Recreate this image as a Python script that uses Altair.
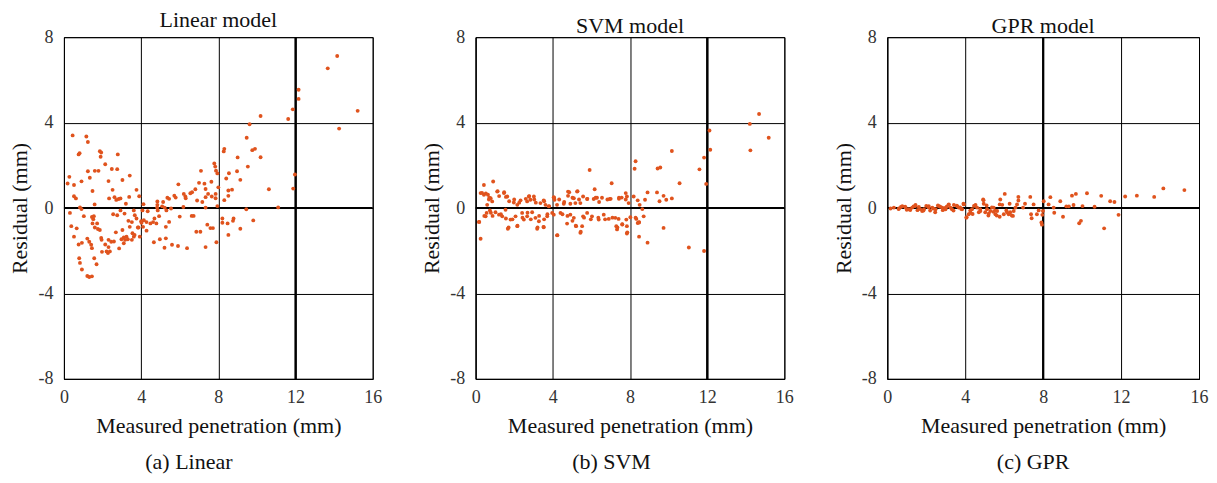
import altair as alt
import pandas as pd

# ---------------- data ----------------
lin_x = [14.16, 13.67, 12.16, 12.16, 11.86, 11.62, 15.22, 14.26, 10.19, 9.62, 9.47, 9.53, 9.9, 9.76, 10.19,
         11.97, 11.88, 10.62, 11.1, 9.45, 9.81, 9.0, 8.97, 9.14, 8.71, 8.52, 8.52, 8.31, 8.28, 8.55, 8.41, 8.31,
         7.79, 7.84, 7.88, 7.95, 8.0, 7.95, 8.21, 8.21, 8.48, 8.79, 8.76, 8.52, 9.14, 7.9, 7.34, 7.43, 7.59, 7.72,
         7.1, 7.0, 7.28, 7.34, 7.64, 7.34, 7.47, 7.66, 7.86, 7.86, 7.17, 6.9, 7.34, 6.81, 6.55, 6.64, 6.21, 6.29,
         6.31, 5.93, 5.72, 5.79, 6.19, 6.0, 6.62, 6.72, 6.86, 7.07, 6.38, 5.91, 5.6, 5.21, 4.97, 4.66, 5.28, 5.45,
         5.28, 5.36, 5.45, 5.14, 5.09, 5.22, 5.31, 5.55, 4.84, 4.84, 4.83, 4.86, 4.93, 4.69, 4.79, 4.62, 4.48,
         4.28, 4.14, 4.02, 4.1, 4.28, 4.34, 4.07, 4.12, 4.0, 3.86, 3.76, 3.67, 3.62, 3.9, 3.76, 3.41, 3.38, 3.03,
         2.79, 2.76, 2.48, 2.52, 2.62, 2.71, 2.84, 2.93, 2.31, 2.34, 2.14, 1.86, 1.93, 1.9, 1.79, 1.6, 1.34, 1.24,
         1.48, 1.59, 1.16, 1.24, 0.45, 0.76, 0.81, 0.91, 0.28, 0.19, 0.52, 0.52, 0.62, 0.83, 0.91, 0.31, 0.38,
         0.52, 0.66, 0.76, 0.93, 1.03, 0.79, 0.83, 0.93, 1.21, 1.31, 1.45, 1.21, 1.31, 1.41, 1.52, 1.48, 1.6, 1.72,
         1.76, 1.86, 1.45, 1.55, 1.69, 1.57, 1.45, 1.93, 1.95, 1.97, 2.14, 2.21, 2.28, 2.38, 2.31, 2.45, 2.59,
         2.31, 2.69, 2.86, 2.55, 2.76, 2.93, 3.03, 3.1, 3.17, 3.24, 3.31, 3.1, 2.98, 3.14, 3.21, 3.41, 3.55, 3.52,
         3.62, 3.52, 3.34, 3.66, 3.83, 3.93]
lin_y = [7.12, 6.54, 5.54, 5.11, 4.62, 4.17, 4.55, 3.72, 4.31, 3.92, 3.29, 1.94, 2.77, 2.71, 2.38,
         1.57, 0.91, 0.88, 0.03, -0.06, -0.58, 2.37, 1.72, 1.32, 0.86, 0.82, 0.57, 2.77, 2.65, 1.63, 1.38, 0.37,
         2.09, 1.94, 1.75, 1.62, 0.97, 0.09, -0.49, -0.69, -0.72, -0.49, -0.6, -1.26, -0.97, -1.6, -1.83, -0.78,
         -0.94, -0.94, 1.74, 1.18, 1.14, 0.89, 1.23, 0.51, 0.66, 0.54, 0.46, 0.66, 0.28, 0.35, 0.02, 0.88, 0.69,
         0.74, 0.66, 0.54, 0.46, 1.11, 0.58, 0.49, 0.05, -0.4, -0.37, -0.37, -1.11, -1.11, -1.88, -1.78, -1.72,
         -1.86, -1.46, -1.6, -1.42, -0.65, -0.88, 0.48, 0.43, 0.28, 0.08, 0.02, -0.11, -0.02, 0.31, 0.15, 0.02,
         -0.11, -0.38, -0.49, -0.72, -0.66, -0.72, -0.66, -0.57, -0.69, -0.88, -1.06, -0.15, -0.11, 0.18, -0.62,
         -0.91, -0.49, -0.34, -0.11, 0.55, 0.85, 1.52, 0.52, 1.31, 2.51, 1.82, 1.83, 0.85, 0.51, 0.38, 0.42, 0.45,
         1.26, 0.45, 2.05, 2.66, 2.6, 2.4, 1.74, 1.74, 1.42, 1.72, 0.8, 0.17, 3.35, 3.09, 3.4, 2.51, 2.57, 1.25,
         1.46, 1.15, 1.08, 0.55, 0.45, 0.03, -0.05, -0.23, -0.85, -1.34, -0.95, -1.71, -1.63, -0.38, -2.35, -2.57,
         -2.88, -3.18, -3.23, -3.2, -1.43, -1.58, -1.72, -0.52, -0.72, -0.91, -0.72, -0.98, -1.03, -0.42, -0.38,
         -2.63, -2.35, -1.88, -1.4, -1.49, -2.05, -1.71, -2.03, -2.11, -2.03, -1.49, -1.58, -1.57, -1.83, -1.14,
         -1.89, -0.29, -0.34, -0.11, -1.03, -1.38, -1.49, -1.34, -1.46, -1.65, -1.46, -0.26, 0.2, -0.88, -1.18,
         -1.49, -1.34, -0.66, -0.6, -1.26, -0.91, -1.34]

svm_x = [14.69, 14.21, 15.19, 14.24, 12.12, 12.16, 11.84, 11.6, 11.95, 10.17, 10.57, 8.29, 8.24, 9.57, 9.43,
         5.91, 7.05, 6.17, 9.74, 9.88, 10.17, 9.4, 8.91, 8.78, 9.53, 8.64, 8.19, 8.4, 8.5, 7.93, 7.78, 7.84,
         7.57, 7.43, 6.95, 6.55, 6.29, 6.12, 5.78, 5.57, 5.26, 4.79, 4.79, 5.09, 5.17, 5.43, 4.91, 4.57, 4.05,
         4.09, 4.22, 3.79, 3.62, 3.53, 3.36, 3.02, 2.76, 2.84, 2.67, 2.33, 2.16, 1.98, 1.64, 1.47, 1.12, 0.91,
         0.43, 0.26, 0.43, 0.64, 0.78, 0.86, 0.6, 0.17, 0.26, 0.52, 0.57, 0.74, 1.03, 1.21, 1.38, 1.55, 1.67,
         1.81, 2.07, 2.16, 2.41, 2.5, 2.67, 2.93, 3.1, 3.19, 3.28, 3.53, 3.71, 3.97, 4.05, 4.22, 4.4, 4.74, 4.91,
         5.09, 5.21, 5.43, 5.52, 5.57, 5.78, 6.03, 6.38, 6.64, 6.9, 7.24, 7.29, 7.33, 7.41, 7.6, 7.81, 7.84,
         7.84, 8.02, 8.33, 8.4, 8.47, 8.47, 8.71, 8.91, 9.74, 11.05, 11.84,
         0.33, 0.53, 0.71, 0.69, 1.14, 1.48, 1.22, 1.57, 1.74, 2.0, 2.26, 2.6, 2.78, 3.04, 3.12, 3.55, 3.81,
         4.07, 4.33, 4.59, 4.85, 5.02, 5.28, 5.36, 5.79, 6.22, 6.4, 6.83, 7.0, 7.43, 7.78,
         0.19, 0.45, 0.79, 0.88, 1.31, 1.57, 1.71, 1.91, 2.17, 2.43, 2.69, 2.86, 3.21, 3.29, 3.55, 3.52, 3.72,
         4.24, 4.5, 4.76, 5.02, 5.19, 5.45, 5.62, 5.97, 6.36, 6.71, 7.09, 7.35, 7.6, 7.86, 8.29, 8.47]
svm_y = [4.4, 3.94, 3.29, 2.7, 3.63, 2.73, 2.36, 1.81, 1.13, 2.67, 1.16, 2.19, 1.84, 1.9, 1.85,
         1.78, 1.16, 0.88, 0.57, 0.39, 0.45, 0.73, 0.73, 0.39, 0.32, -0.05, 0.54, 0.36, 0.15, 0.23, 0.7, 0.54,
         0.49, 0.43, 0.42, 0.48, 0.48, 0.42, 0.42, 0.54, 0.77, 0.77, 0.57, 0.46, 0.23, 0.23, 0.2, 0.2, 0.51,
         0.39, 0.15, 0.08, 0.15, 0.36, 0.23, 0.54, 0.54, 0.39, 0.31, 0.36, 0.15, 0.26, 0.54, 0.7, 0.77, 1.24,
         1.08, 0.7, 0.62, 0.62, 0.46, 0.31, 0.15, -0.65, -1.44, -0.39, -0.23, -0.11, -0.2, -0.31, -0.39, -0.08,
         -0.97, -0.54, -0.39, -0.85, -0.23, -0.54, -0.39, -0.2, -0.46, -0.97, -0.62, -0.9, -0.39, -0.23, -0.31,
         -1.28, -0.23, -0.73, -0.31, -0.46, -0.85, -1.16, -0.85, -0.39, -0.23, -0.39, -0.54, -0.31, -0.51, -0.46,
         -0.85, -1.0, -0.51, -0.77, -0.54, -0.85, -1.19, -0.43, -0.51, -0.7, -0.66, -1.34, -0.39, -1.62, -0.93,
         -1.85, -2.01,
         0.71, 0.68, 0.48, 0.4, 0.79, 0.74, 0.56, 0.52, 0.32, 0.4, 0.25, 0.43, 0.56, 0.4, 0.25, 0.32, 0.09,
         0.48, 0.4, 0.28, 0.74, 0.48, 0.79, 0.4, 0.43, 0.48, 0.28, 0.4, 0.43, 0.48, 0.4,
         -0.65, -0.37, -0.22, -0.37, -0.29, -0.49, -0.91, -0.53, -0.83, -0.45, -0.22, -0.53, -0.91, -0.37, -0.53,
         -0.88, -0.29, -1.27, -0.29, -0.37, -0.6, -0.83, -1.11, -0.45, -0.53, -0.45, -0.53, -0.45, -0.91, -0.76,
         -1.14, -0.45, -0.68]

gpr_x = [14.17, 15.25, 13.7, 12.81, 12.21, 11.44, 11.66, 10.98, 10.25, 9.68, 9.48, 9.56, 10.02, 10.64, 9.19,
         9.32, 8.88, 8.37, 8.28, 8.54, 8.57, 9.02, 9.94, 9.85, 11.13, 11.87, 8.03, 7.99, 7.96, 7.94, 7.91, 7.77,
         7.68, 7.34, 7.38, 7.51, 7.41, 7.07, 6.97, 6.73, 6.73, 6.66, 6.58, 6.49, 6.45, 6.28, 6.23, 6.03, 6.11,
         5.98, 5.8, 5.77, 5.77, 5.64, 5.55, 5.46, 5.29, 5.21, 5.12, 4.95, 4.92, 4.78, 4.61, 4.53, 4.35, 4.27,
         4.18, 4.06, 3.93, 3.84, 3.67, 3.42, 3.24, 3.16, 2.99, 2.82, 2.65, 2.48, 2.31, 2.13, 1.88, 1.79, 1.62,
         1.45, 1.28, 1.11, 0.94, 0.77, 0.6, 0.34, 0.17,
         0.58, 0.92, 1.18, 1.44, 1.69, 1.86, 2.12, 2.37, 2.46, 2.72, 2.97, 3.14, 3.32, 3.57, 3.74, 3.91, 4.07,
         4.26, 4.38, 4.51, 4.77, 4.94, 5.03, 5.19, 5.37, 5.54, 5.62, 6.31, 6.39,
         0.7, 1.0, 1.35, 1.55, 2.0, 2.2, 2.6, 2.85, 3.05, 3.4, 3.6, 3.8, 4.45, 4.7, 5.1, 5.45, 5.9, 6.15]
gpr_y = [0.92, 0.84, 0.52, 0.58, 0.54, 0.32, 0.28, 0.57, 0.69, 0.66, 0.58, 0.14, 0.09, 0.06, 0.08,
         0.08, 0.32, 0.51, 0.17, 0.02, -0.22, -0.41, -0.6, -0.71, -0.95, -0.32, 0.32, -0.14, -0.32, -0.78, -0.68,
         -0.11, -0.29, 0.52, -0.29, 0.17, -0.48, 0.2, 0.02, 0.52, 0.35, 0.17, 0.02, -0.14, -0.37, 0.2, -0.29,
         0.66, -0.11, -0.29, 0.4, 0.17, -0.41, -0.14, -0.29, 0.02, -0.14, -0.26, -0.06, 0.2, 0.4, -0.14, 0.02,
         0.14, -0.06, -0.22, -0.29, -0.45, 0.17, -0.06, 0.02, 0.14, 0.02, 0.17, -0.06, 0.02, 0.09, -0.06, 0.02,
         0.09, -0.06, -0.14, 0.05, 0.14, 0.02, -0.06, 0.02, 0.09, -0.02, 0.02, -0.02,
         -0.05, 0.06, -0.09, 0.09, -0.05, -0.12, 0.03, -0.03, -0.2, 0.06, 0.0, 0.15, -0.06, 0.11, 0.03, 0.2,
         -0.43, -0.12, -0.28, 0.11, -0.05, 0.37, -0.2, -0.35, 0.03, -0.12, -0.35, -0.2, -0.35,
         0.05, -0.08, 0.08, -0.1, 0.1, -0.12, 0.12, -0.1, 0.06, -0.12, 0.08, -0.04, 0.1, -0.2, 0.12, -0.18,
         0.15, -0.2]

x_ticks = [0, 4, 8, 12, 16]
y_ticks = [-8, -4, 0, 4, 8]
panel_titles = ["Linear model", "SVM model", "GPR model"]
captions = ["(a) Linear", "(b) SVM", "(c) GPR"]
heavy_x = [12, 12, 8]   # vertical grid lines that print heavier in the reference
zero_line = [0]

FONT = "Liberation Serif, 'Times New Roman', Times, serif"
DOT = "#E0531D"
PLOT_H = 342


def panel(xs, ys, title, caption, hx, width, cap_x, title_offset):
    df = pd.DataFrame({"x": xs, "y": ys})
    xenc = alt.X("x:Q", scale=alt.Scale(domain=[0, 16], nice=False),
                 axis=alt.Axis(values=x_ticks, title="Measured penetration (mm)", labelPadding=10,
                               titlePadding=9, labelFlush=False))
    yenc = alt.Y("y:Q", scale=alt.Scale(domain=[-8, 8], nice=False),
                 axis=alt.Axis(values=y_ticks, title="Residual (mm)", labelPadding=11,
                               titlePadding=6, labelExpr="'' + datum.value"))
    pts = alt.Chart(df).mark_circle(size=15, color=DOT, opacity=1).encode(x=xenc, y=yenc)
    zr = alt.Chart(pd.DataFrame({"y": zero_line})).mark_rule(color="black", strokeWidth=2).encode(y="y:Q")
    vr = alt.Chart(pd.DataFrame({"x": [hx]})).mark_rule(color="black", strokeWidth=2.2).encode(x="x:Q")
    cap = alt.Chart(pd.DataFrame({"t": [caption]})).mark_text(
        font=FONT, fontSize=22, color="#111", align="center", baseline="middle"
    ).encode(text="t:N", x=alt.value(cap_x), y=alt.value(PLOT_H + 83))
    return alt.layer(zr, vr, pts, cap).properties(
        width=width, height=PLOT_H,
        title=alt.TitleParams(title, font=FONT, fontSize=22, fontWeight="normal", color="#111",
                              offset=title_offset),
    )


a = panel(lin_x, lin_y, panel_titles[0], captions[0], heavy_x[0], 309, 125, -4)
b = panel(svm_x, svm_y, panel_titles[1], captions[1], heavy_x[1], 309, 136, -10)
c = panel(gpr_x, gpr_y, panel_titles[2], captions[2], heavy_x[2], 312, 146, -10)

chart = alt.hconcat(a, b, c, spacing=103, bounds="flush").properties(padding=0).configure_view(
    stroke="black", strokeWidth=1
).configure_axis(
    labelFont=FONT, labelFontSize=18, labelColor="#333",
    titleFont=FONT, titleFontSize=22, titleFontWeight="normal", titleColor="#111",
    grid=True, gridColor="black", gridOpacity=1, gridWidth=1,
    ticks=False, domainColor="black", domainWidth=1,
).configure_title(anchor="middle")

chart.save("out.html", embed_options={"renderer": "svg", "actions": False})
